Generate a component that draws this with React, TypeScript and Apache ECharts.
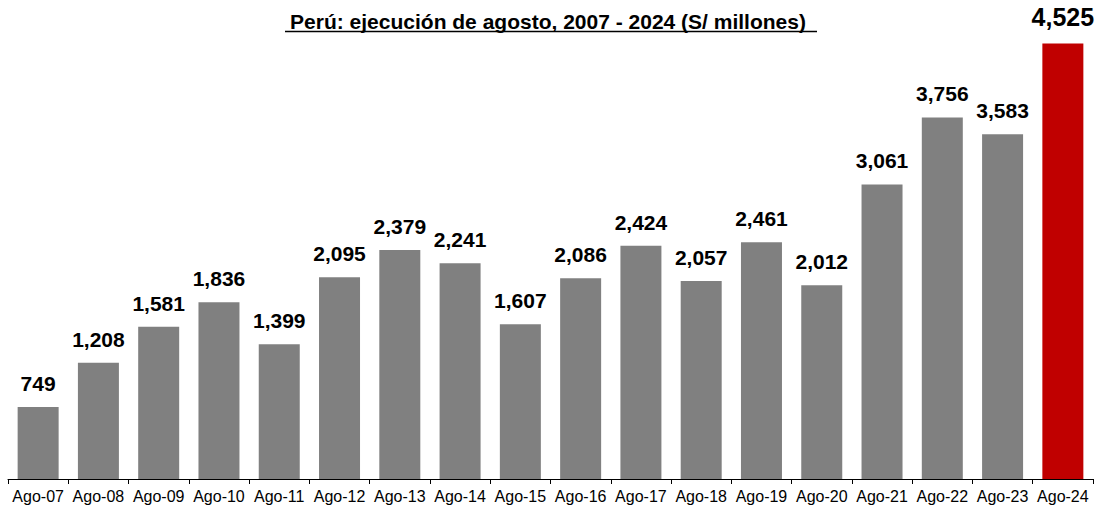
import React, { useEffect, useRef } from "react";
import * as echarts from "echarts";

const categories = [
  "Ago-07", "Ago-08", "Ago-09", "Ago-10", "Ago-11", "Ago-12", "Ago-13", "Ago-14", "Ago-15",
  "Ago-16", "Ago-17", "Ago-18", "Ago-19", "Ago-20", "Ago-21", "Ago-22", "Ago-23", "Ago-24",
];
const values = [749, 1208, 1581, 1836, 1399, 2095, 2379, 2241, 1607, 2086, 2424, 2057, 2461, 2012, 3061, 3756, 3583, 4525];
const highlightIndex = 17;
const titleText = "Perú: ejecución de agosto, 2007 - 2024 (S/ millones)";

const FONT = "'Liberation Sans', Arial, sans-serif";

export default function App() {
  const ref = useRef<HTMLDivElement>(null);
  useEffect(() => {
    if (!ref.current) return;
    const chart = echarts.init(ref.current, undefined, { renderer: "svg" });
    const fmt = (v: number) => v.toLocaleString("en-US");
    chart.setOption({
      animation: false,
      textStyle: { fontFamily: FONT },
      grid: { left: 8, right: 8, top: 17, bottom: 27 },
      xAxis: {
        type: "category",
        data: categories,
        axisLine: { lineStyle: { color: "#000", width: 1 } },
        axisTick: { show: true, length: 5, lineStyle: { color: "#000" } },
        axisLabel: { color: "#000", fontSize: 16, fontFamily: FONT, margin: 9, interval: 0 },
      },
      yAxis: {
        type: "value",
        min: 0,
        max: 4800,
        show: false,
        splitLine: { show: false },
      },
      graphic: [
        {
          type: "text",
          x: 548,
          y: 21,
          style: {
            text: titleText,
            fontSize: 21,
            fontWeight: "bold",
            fontFamily: FONT,
            fill: "#000",
            align: "center",
            verticalAlign: "middle",
          },
        },
        {
          type: "line",
          shape: { x1: 285, y1: 31.5, x2: 817, y2: 31.5 },
          style: { stroke: "#000", lineWidth: 1.6 },
        },
      ],
      series: [
        {
          type: "bar",
          barWidth: 41,
          data: values.map((v, i) => ({
            value: v,
            itemStyle: { color: i === highlightIndex ? "#C00000" : "#808080" },
            label: i === highlightIndex ? { fontSize: 25, distance: 14 } : undefined,
          })),
          label: {
            show: true,
            position: "top",
            distance: 13,
            color: "#000",
            fontWeight: "bold",
            fontSize: 21,
            fontFamily: FONT,
            formatter: (p: any) => fmt(p.value),
          },
        },
      ],
    });
    return () => chart.dispose();
  }, []);
  return (
    <div
      ref={ref}
      style={{ position: "fixed", left: 0, top: 0, width: 1101, height: 506, background: "#fff" }}
    />
  );
}
